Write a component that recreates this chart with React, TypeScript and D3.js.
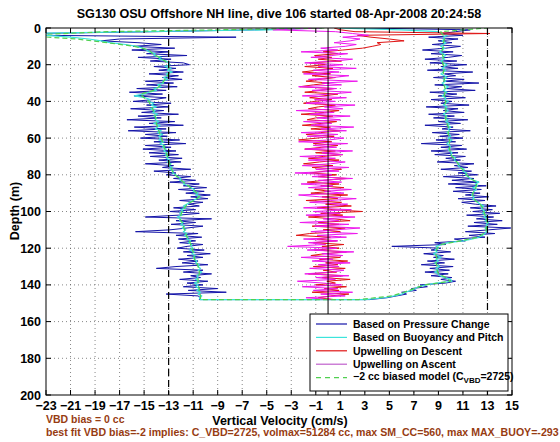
import React from "react";
import * as d3 from "d3";

const title = "SG130 OSU Offshore NH line, dive 106 started 08-Apr-2008 20:24:58";
const xLabel = "Vertical Velocity (cm/s)";
const yLabel = "Depth (m)";
const note1 = "VBD bias = 0 cc";
const note2 = "best fit VBD bias=-2 implies: C_VBD=2725, volmax=51284 cc, max SM_CC=560, max MAX_BUOY=-293";
const xTicks = [-23, -21, -19, -17, -15, -13, -11, -9, -7, -5, -3, -1, 1, 3, 5, 7, 9, 11, 13, 15];
const yTicks = [0, 20, 40, 60, 80, 100, 120, 140, 160, 180, 200];
const limitLines = [-13, 13];
const legendLabels = ["Based on Pressure Change", "Based on Buoyancy and Pitch", "Upwelling on Descent", "Upwelling on Ascent"];

// depth samples (m): descent goes down, ascent comes back up
const downDepth = d3.range(0, 149, 1);
const upDepth = d3.range(148, -1, -1);
const downDepth2 = d3.range(0, 149, 2);
const upDepth2 = d3.range(148, -1, -2);

const blueDown = [
  -1, -6, -14, -24, -23, -7.5, -17, -18.5, -15.5, -13.6,
  -15.9, -12.5, -16, -13, -14.8, -11.5, -15.5, -12.8, -14.5, -11.8,
  -11.3, -14.2, -12.4, -13.8, -11.8, -14.6, -12.2, -13.5, -11.9, -14.9,
  -12.6, -14.8, -12.3, -15.6, -13.2, -16.2, -13.5, -15.8, -13.2, -14.2,
  -15.9, -12.8, -14.8, -13, -16.1, -13.4, -15.2, -12.2, -15.5, -13.6,
  -16.4, -12.5, -14.6, -11.8, -15.8, -13.2, -16.3, -12.4, -14.9, -13.1,
  -15.3, -12.1, -14.2, -11.6, -14.9, -12.8, -15.1, -12.4, -14.6, -12.2,
  -14.5, -11.9, -13.8, -12, -14.9, -12.6, -13.5, -11.2, -14.2, -12.4,
  -13.2, -11.2, -12.6, -10.8, -12.9, -10.5, -11.8, -9.9, -12.2, -10.1,
  -11.6, -9.6, -11.2, -9.8, -12.1, -10.2, -11.4, -10.5, -12.6, -10.8,
  -12.9, -10.5, -12.2, -14.9, -9.5, -12.4, -10.8, -12.8, -10.2, -11.5,
  -12.9, -15.7, -10.6, -12.4, -10.3, -12.2, -10.8, -12.1, -10.2, -11.5,
  -12.3, -10.1, -11.8, -9.6, -11.5, -10.2, -12.2, -10.6, -11.9, -9.8,
  -12.4, -14, -10.2, -11.8, -9.5, -11.2, -10.4, -12.1, -9.8, -11.5,
  -10.2, -11.8, -9, -11.4, -8.3, -13.2, -10.6, -10.4, -10.5,
];
const blueUp = [
  3.4, 4.8, 5.6, 6.4, 6.0, 7.2, 6.8, 8.1, 7.5, 9.6,
  10.4, 9.2, 10.1, 8.4, 9.8, 7.9, 9.9, 8.3, 10.2, 7.6,
  9.5, 8.1, 10.3, 8.6, 9.4, 7.8, 10.0, 8.4, 9.2, 5.2,
  9.6, 8.7, 11.2, 10.3, 12.8, 11.5, 13.6, 11.2, 13.1, 14.9,
  11.4, 13.8, 11.9, 14.2, 12.1, 13.5, 11.3, 14.0, 11.8, 13.4,
  11.6, 13.7, 12.0, 10.9, 12.8, 10.6, 13.1, 11.2, 12.4, 10.2,
  12.5, 10.4, 12.9, 9.8, 12.3, 10.1, 11.9, 9.4, 12.2, 10.6,
  11.7, 9.2, 11.4, 10.3, 11.9, 8.9, 10.8, 9.6, 11.2, 8.7,
  10.6, 8.4, 11.3, 9.2, 10.9, 7.6, 10.4, 8.8, 11.0, 9.1,
  10.7, 8.5, 11.6, 9.3, 10.2, 7.9, 10.8, 9.0, 11.4, 8.6,
  10.3, 8.2, 11.1, 9.4, 10.6, 8.0, 11.5, 9.2, 10.1, 8.4,
  11.2, 9.0, 10.5, 8.3, 12.0, 9.6, 10.9, 8.7, 12.3, 9.4,
  11.1, 8.6, 10.4, 9.5, 11.8, 8.1, 10.6, 9.2, 11.3, 8.3,
  10.5, 7.9, 9.8, 10.9, 8.4, 10.2, 7.7, 9.6, 10.8, 8.5,
  10.1, 9.0, 10.6, 8.2, 11.0, 9.3, 10.4, 11.6, 3.0,
];
const cyanDown = [
  -0.5, -5, -15, -25, -23, -21, -19.5, -18.5, -17.8, -16.5,
  -15.6, -15.1, -14.8, -14.6, -14.1, -14.2, -13.6, -13.8, -13.2, -13.0,
  -12.9, -13.3, -12.8, -13.1, -12.7, -13.2, -13.0, -13.4, -13.1, -13.5,
  -13.4, -13.9, -13.6, -14.2, -14.0, -14.6, -15.1, -15.8, -14.9, -14.5,
  -14.7, -14.2, -14.4, -14.0, -14.5, -14.1, -14.3, -13.9, -14.2, -14.0,
  -14.1, -13.8, -14.2, -13.7, -13.9, -14.1, -13.6, -13.9, -13.5, -13.8,
  -13.6, -13.8, -13.4, -13.7, -13.3, -13.5, -13.2, -13.4, -13.1, -13.3,
  -13.0, -13.2, -12.9, -13.1, -12.8, -13.0, -12.7, -12.9, -12.6, -12.7,
  -12.4, -12.3, -12.0, -12.1, -11.7, -11.8, -11.4, -11.2, -10.9, -11.0,
  -10.6, -10.8, -10.4, -10.7, -11.0, -11.3, -11.5, -11.8, -11.6, -12.0,
  -11.8, -12.1, -11.9, -12.3, -12.0, -12.1, -11.8, -12.0, -11.7, -11.9,
  -11.6, -11.8, -11.5, -11.7, -11.4, -11.5, -11.2, -11.4, -11.1, -11.2,
  -11.0, -11.3, -10.9, -11.1, -10.8, -11.0, -10.9, -10.7, -10.8, -10.5,
  -10.6, -10.4, -10.6, -10.3, -10.5, -10.7, -10.6, -10.8, -10.5, -10.9,
  -10.6, -10.8, -10.5, -10.7, -10.4, -10.6, -10.3, -10.5, -10.4,
];
const cyanUp = [
  3.0, 4.6, 5.4, 6.0, 6.3, 6.8, 7.1, 7.4, 8.0, 8.8,
  10.1, 10.0, 9.5, 9.1, 9.0, 8.7, 9.0, 8.8, 9.1, 8.9,
  8.7, 9.0, 8.8, 9.2, 8.9, 8.6, 8.9, 8.7, 9.0, 8.8,
  9.3, 9.8, 11.0, 11.8, 12.3, 12.6, 12.8, 12.9, 13.0, 12.8,
  13.0, 12.9, 13.1, 12.8, 13.0, 12.7, 12.9, 12.6, 12.8, 12.6,
  12.5, 12.7, 12.4, 12.2, 12.0, 11.8, 11.9, 11.7, 11.8, 11.9,
  12.1, 11.8, 12.2, 12.0, 12.3, 11.9, 11.6, 11.4, 11.2, 11.3,
  11.0, 11.1, 10.8, 10.6, 10.7, 10.5, 10.3, 10.4, 10.2, 10.0,
  10.1, 9.9, 9.8, 10.0, 9.9, 9.7, 9.9, 10.1, 9.8, 10.0,
  9.9, 9.7, 9.9, 9.8, 10.0, 9.7, 9.9, 9.6, 9.8, 9.5,
  9.7, 9.4, 9.6, 9.8, 9.5, 9.7, 9.4, 9.6, 9.8, 9.5,
  9.6, 9.3, 9.5, 9.7, 9.4, 9.6, 9.8, 9.5, 9.3, 9.6,
  9.4, 9.7, 9.5, 9.2, 9.4, 9.6, 9.3, 9.5, 9.7, 9.4,
  9.2, 9.5, 9.3, 9.6, 9.4, 9.1, 9.3, 9.5, 9.2, 9.4,
  9.6, 9.3, 9.5, 9.4, 9.7, 9.2, 9.0, 6.0, 0.5,
];
const greenDown = [
  -0.3, -18, -25, -20.5, -18, -15.8, -14.6, -14.3, -13.8, -13.3,
  -13.0, -13.0, -12.9, -13.1, -13.3, -13.5, -13.8, -14.2, -15.3, -15.0,
  -14.6, -14.5, -14.3, -14.2, -14.1, -14.0, -14.0, -13.9, -13.8, -13.7,
  -13.6, -13.5, -13.4, -13.3, -13.2, -13.1, -13.0, -12.9, -12.8, -12.7,
  -12.5, -12.1, -11.8, -11.4, -11.0, -10.7, -10.5, -10.9, -11.5, -11.7,
  -11.9, -12.0, -12.1, -11.9, -11.8, -11.7, -11.6, -11.5, -11.3, -11.2,
  -11.1, -11.0, -10.9, -10.9, -10.7, -10.6, -10.5, -10.5, -10.6, -10.6,
  -10.6, -10.5, -10.5, -10.4, -10.4,
];
const greenUp = [
  2.5, 5.2, 6.2, 7.0, 7.9, 10.0, 9.6, 9.0, 8.9, 8.9,
  8.8, 8.9, 8.8, 8.8, 8.9, 9.2, 10.8, 12.2, 12.7, 12.9,
  12.9, 13.0, 12.9, 12.8, 12.7, 12.6, 12.4, 12.0, 11.8, 11.8,
  12.0, 12.1, 12.1, 11.6, 11.3, 11.1, 10.8, 10.6, 10.4, 10.1,
  10.0, 9.9, 9.9, 9.9, 9.9, 9.8, 9.8, 9.8, 9.7, 9.6,
  9.6, 9.6, 9.6, 9.5, 9.6, 9.5, 9.5, 9.6, 9.5, 9.4,
  9.5, 9.4, 9.4, 9.5, 9.4, 9.3, 9.4, 9.3, 9.3, 9.4,
  9.4, 9.5, 9.4, 9.2, 13.0,
];
const redDown = [
  0.5, 1.0, 2.2, 13.2, 2.4, 3.5, 5.0, 6.2, 4.0, 4.3,
  3.6, 2.8, 1.2, -0.4, 0.8, -1.1, 0.3, -0.8, 1.1, -1.5,
  -0.2, -1.9, 0.4, -0.9, -2.1, 0.2, -1.3, 0.6, -0.7, -1.8,
  0.1, -1.2, -2.3, 0.5, -0.6, -1.9, 0.8, -0.4, -1.5, 0.3,
  -1.1, -2.0, 0.6, -0.8, -1.6, 0.9, -0.3, -2.2, 0.4, -1.0,
  -1.7, 0.7, -0.5, -2.1, 0.2, -1.4, 1.0, -0.6, -1.8, 0.5,
  -0.9, -2.4, 0.3, -1.2, 0.8, -0.5, -1.9, 0.6, -1.0, 1.2,
  -0.4, -1.6, 0.9, -0.7, -2.0, 0.4, -1.3, 1.1, -0.2, -1.5,
  0.7, -0.8, 1.5, -0.3, -1.7, 0.9, -0.6, 1.3, -1.1, 0.2,
  -1.4, 1.6, -0.5, 0.8, -1.8, 1.1, -0.2, 1.9, -0.9, 0.4,
  2.8, -0.6, 1.2, -1.6, 0.5, 1.8, -0.8, 0.9, -1.3, 1.4,
  -0.4, 1.0, -1.5, -2.6, 0.2, -0.9, 0.7, -1.2, 1.3, -0.5,
  0.9, -1.1, 1.5, -0.3, -1.4, 1.0, -0.7, 1.6, -0.2, 0.8,
  -1.2, 1.4, -0.4, 0.7, -1.6, 1.2, -0.5, 1.8, -0.1, 0.6,
  -1.0, 1.5, -0.3, 0.9, -1.3, 1.7, 0.2, -0.8, 0.5,
];
const magentaUp = [
  0.2, -1.8, 1.4, -0.6, 2.0, -1.2, 0.8, -2.1, 1.1, -0.4,
  -2.5, 0.6, -1.0, 1.7, -1.9, 0.3, 1.3, -1.5, 0.9, -0.8,
  1.8, -1.3, 0.4, -2.2, 1.2, -0.5, 2.1, -1.7, 0.7, -3.3,
  -0.2, -1.6, 0.8, -2.0, 1.5, -0.9, 2.4, -1.4, 0.6, 2.6,
  -1.1, 1.7, -2.3, 0.9, -0.4, 2.2, -1.8, 1.0, -1.2, 1.9,
  -2.0, 0.5, 1.6, -1.5, 0.2, 2.3, -0.7, -2.4, 1.3, -0.3,
  1.9, -1.6, 0.4, -2.2, 1.1, -0.8, 2.0, -1.3, 0.3, -2.7,
  0.9, -1.0, 1.7, -2.1, 0.2, 1.4, -1.6, 0.6, -2.3, 1.2,
  -0.5, 2.0, -1.9, 0.7, -1.2, 1.6, -2.4, 0.1, 1.3, -1.7,
  0.8, -2.2, 1.5, -0.6, 2.1, -1.4, 0.3, -2.0, 1.0, -0.9,
  1.8, -1.5, 0.5, -2.6, 1.2, -0.3, 2.2, -1.8, 0.6, -1.1,
  1.5, -2.1, 0.2, 1.9, -1.3, 0.7, -2.4, 1.1, -0.5, 2.4,
  -1.6, 0.4, 1.7, -2.0, 0.9, -1.2, 2.3, -0.8, 1.2, -1.9,
  0.6, 2.0, -1.4, 0.3, 1.6, -2.2, 0.8, -0.6, 1.4, 2.3,
  0.5, 1.8, 2.6, 1.2, 3.3, 2.0, 0.6, -4.5, -0.5,
];

const W = 560, H = 442;
const L = 46, R = 512, T = 28, B = 395;
const FONT = "'Liberation Sans', Arial, Helvetica, sans-serif";
const C_BLUE = "#1414a8";
const C_CYAN = "#3ce4dc";
const C_RED = "#e01414";
const C_MAG = "#ee18ee";
const C_GREEN = "#50d050";
const C_BROWN = "#973c12";

type P = [number, number];

export default function App() {
  const x = d3.scaleLinear().domain([-23, 15]).range([L, R]);
  const y = d3.scaleLinear().domain([0, 200]).range([T, B]);
  const line = d3.line<P>().x((d) => x(d[0])).y((d) => y(d[1]));
  const pair = (vals: number[], depths: number[]): P[] => vals.map((v, i) => [v, depths[i]]);
  const path = (a: number[], da: number[], b?: number[], db?: number[]) =>
    line(b && db ? [...pair(a, da), ...pair(b, db)] : pair(a, da)) || "";

  const series = [
    { d: path(blueDown, downDepth, blueUp, upDepth), c: C_BLUE, w: 1, dash: undefined as string | undefined },
    { d: path(cyanDown, downDepth, cyanUp, upDepth), c: C_CYAN, w: 1.2, dash: undefined },
    { d: path(redDown, downDepth), c: C_RED, w: 1, dash: undefined },
    { d: path(magentaUp, upDepth), c: C_MAG, w: 1, dash: undefined },
    { d: path(greenDown, downDepth2, greenUp, upDepth2), c: C_GREEN, w: 1.2, dash: "5,3" },
  ];
  const fmt = (v: number) => (v < 0 ? "\u2212" + Math.abs(v) : String(v));
  const legend = [
    { c: C_BLUE, dash: undefined as string | undefined },
    { c: C_CYAN, dash: undefined },
    { c: C_RED, dash: undefined },
    { c: "#c060cc", dash: undefined },
    { c: C_GREEN, dash: "5,4" },
  ];
  const legY0 = 324, legStep = 13.4;

  return (
    <svg width={W} height={H} style={{ position: "absolute", left: 0, top: 0, background: "#fff" }} fontFamily={FONT}>
      <defs>
        <clipPath id="plotclip">
          <rect x={L} y={T} width={R - L} height={B - T} />
        </clipPath>
      </defs>
      <rect x={0} y={0} width={W} height={H} fill="#fff" />
      {/* grid */}
      <g stroke="#555" strokeWidth={0.7} strokeDasharray="1,3">
        {xTicks.slice(1, -1).map((t) => (
          <line key={"gx" + t} x1={x(t)} x2={x(t)} y1={T} y2={B} />
        ))}
        {yTicks.slice(1, -1).map((t) => (
          <line key={"gy" + t} x1={L} x2={R} y1={y(t)} y2={y(t)} />
        ))}
      </g>
      <g clipPath="url(#plotclip)" fill="none" strokeLinejoin="round">
        {series.map((s, i) => (
          <path key={i} d={s.d} stroke={s.c} strokeWidth={s.w} strokeDasharray={s.dash} />
        ))}
        <line x1={x(0)} x2={x(0)} y1={T} y2={B} stroke="#000" strokeWidth={1} />
        {limitLines.map((v) => (
          <line key={"lim" + v} x1={x(v)} x2={x(v)} y1={T} y2={B} stroke="#000" strokeWidth={1.2} strokeDasharray="7,4" />
        ))}
      </g>
      {/* axes box and ticks */}
      <rect x={L} y={T} width={R - L} height={B - T} fill="none" stroke="#000" strokeWidth={1} />
      <g stroke="#000" strokeWidth={1}>
        {xTicks.map((t) => (
          <g key={"tx" + t}>
            <line x1={x(t)} x2={x(t)} y1={B} y2={B - 5} />
            <line x1={x(t)} x2={x(t)} y1={T} y2={T + 5} />
          </g>
        ))}
        {yTicks.map((t) => (
          <g key={"ty" + t}>
            <line x1={L} x2={L + 5} y1={y(t)} y2={y(t)} />
            <line x1={R} x2={R - 5} y1={y(t)} y2={y(t)} />
          </g>
        ))}
      </g>
      <g fontWeight="bold" fontSize={12.5} fill="#000">
        {xTicks.map((t) => (
          <text key={"lx" + t} x={x(t)} y={409.5} textAnchor="middle">{fmt(t)}</text>
        ))}
        {yTicks.map((t) => (
          <text key={"ly" + t} x={41} y={y(t) + 4.5} textAnchor="end">{fmt(t)}</text>
        ))}
      </g>
      <text x={279} y={18} textAnchor="middle" fontWeight="bold" fontSize={12.6}>{title}</text>
      <text x={280} y={424.5} textAnchor="middle" fontWeight="bold" fontSize={12.5}>{xLabel}</text>
      <text transform={`translate(19,${211}) rotate(-90)`} textAnchor="middle" fontWeight="bold" fontSize={12.5}>{yLabel}</text>
      <text x={46} y={423} fontWeight="bold" fontSize={10.5} fill={C_BROWN}>{note1}</text>
      <text x={46} y={436} fontWeight="bold" fontSize={10.6} fill={C_BROWN}>{note2}</text>
      {/* legend */}
      <g>
        <rect x={310} y={314} width={198} height={77} fill="#fff" stroke="#000" strokeWidth={1} />
        {legend.map((e, i) => (
          <line key={"ll" + i} x1={316} x2={347} y1={legY0 + i * legStep} y2={legY0 + i * legStep} stroke={e.c} strokeWidth={1.2} strokeDasharray={e.dash} />
        ))}
        <g fontWeight="bold" fontSize={10.5}>
          {legendLabels.map((s, i) => (
            <text key={"lt" + i} x={353} y={legY0 + i * legStep + 4}>{s}</text>
          ))}
          <text x={353} y={legY0 + 4 * legStep + 2}>
            {"\u22122 cc biased model (C"}
            <tspan fontSize={8} dy={3}>VBD</tspan>
            <tspan dy={-3}>{"=2725)"}</tspan>
          </text>
        </g>
      </g>
    </svg>
  );
}
